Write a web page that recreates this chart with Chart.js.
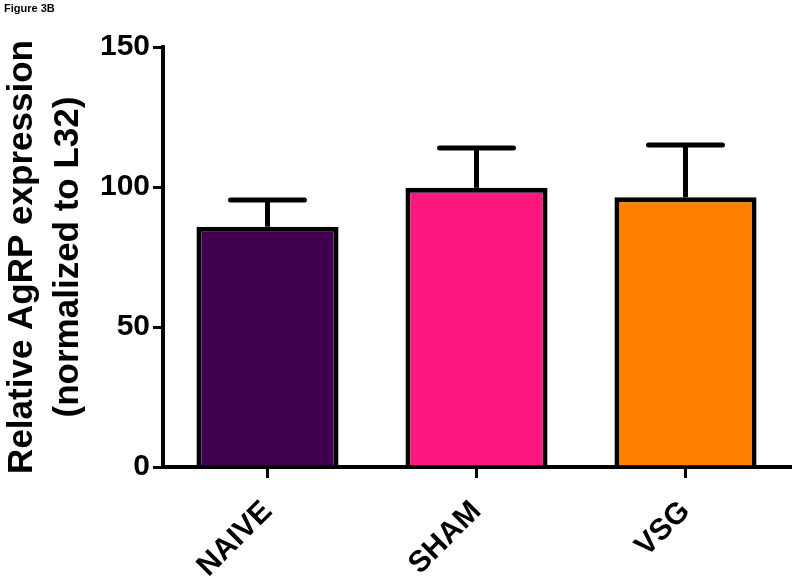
<!DOCTYPE html>
<html>
<head>
<meta charset="utf-8">
<script src="https://cdn.jsdelivr.net/npm/chart.js@4.4.1/dist/chart.umd.min.js"></script>
<style>
  html, body { margin: 0; padding: 0; background: #fff; }
  #wrap { position: relative; width: 800px; height: 586px; }
  #fig { position: absolute; left: 4px; top: 2px; font: bold 11px "Liberation Sans", Arial, sans-serif; color: #000; }
</style>
</head>
<body>
<div id="wrap">
  <canvas id="c" width="800" height="586"></canvas>
  <div id="fig">Figure 3B</div>
</div>
<script>
const categories = ["NAIVE", "SHAM", "VSG"];
const means = [85.8, 99.7, 96.3];
const errorsUpper = [9.6, 14.2, 18.7];
const barColors = ["#41004f", "#fe1781", "#ff8000"];
const yTicks = [0, 50, 100, 150];
const yTitle = ["Relative AgRP expression", "(normalized to L32)"];

const errorBarPlugin = {
  id: 'errorBars',
  afterDatasetsDraw(chart) {
    const ctx = chart.ctx;
    const meta = chart.getDatasetMeta(0);
    const y = chart.scales.y;
    ctx.save();
    ctx.strokeStyle = '#000';
    meta.data.forEach((bar, i) => {
      const x = bar.x;
      const yTop = y.getPixelForValue(means[i] + errorsUpper[i]);
      const yMean = y.getPixelForValue(means[i]);
      ctx.lineWidth = 5;
      ctx.lineCap = 'butt';
      ctx.beginPath();
      ctx.moveTo(x, yMean);
      ctx.lineTo(x, yTop);
      ctx.stroke();
      const half = bar.width * 0.26;
      ctx.lineCap = 'round';
      ctx.beginPath();
      ctx.moveTo(x - half, yTop);
      ctx.lineTo(x + half, yTop);
      ctx.stroke();
    });
    ctx.restore();
  }
};

new Chart(document.getElementById('c'), {
  type: 'bar',
  data: {
    labels: categories,
    datasets: [{
      data: means,
      backgroundColor: barColors,
      borderColor: '#000',
      borderWidth: 5,
      barPercentage: 0.68,
      categoryPercentage: 1.0
    }]
  },
  options: {
    responsive: false,
    animation: false,
    devicePixelRatio: 1,
    layout: { padding: { top: 47, right: 10, left: 0, bottom: 0 } },
    plugins: { legend: { display: false }, tooltip: { enabled: false } },
    scales: {
      x: {
        offset: true,
        grid: { display: true, offset: false, drawOnChartArea: false, drawTicks: true, tickLength: 11, color: '#000', lineWidth: 3 },
        border: { display: true, color: '#000', width: 4 },
        ticks: {
          color: '#000',
          font: { family: '"Liberation Sans", Arial, sans-serif', size: 30, weight: 'bold' },
          minRotation: 45, maxRotation: 45, padding: 16
        },
        afterFit(scale) { scale.height = 119; }
      },
      y: {
        min: 0, max: 150,
        afterBuildTicks(scale) { scale.ticks = yTicks.map(v => ({ value: v })); },
        grid: { display: true, drawOnChartArea: false, drawTicks: true, tickLength: 10, color: '#000', lineWidth: 3 },
        border: { display: true, color: '#000', width: 4 },
        ticks: {
          color: '#000',
          font: { family: '"Liberation Sans", Arial, sans-serif', size: 30, weight: 'bold' },
          padding: 3
        },
        title: {
          display: true,
          text: yTitle,
          color: '#000',
          font: { family: '"Liberation Sans", Arial, sans-serif', size: 35, weight: 'bold', lineHeight: 1.3 },
          padding: { top: 0, bottom: 0 }
        },
        afterFit(scale) { scale.width = 163; }
      }
    }
  },
  plugins: [errorBarPlugin]
});
</script>
</body>
</html>
